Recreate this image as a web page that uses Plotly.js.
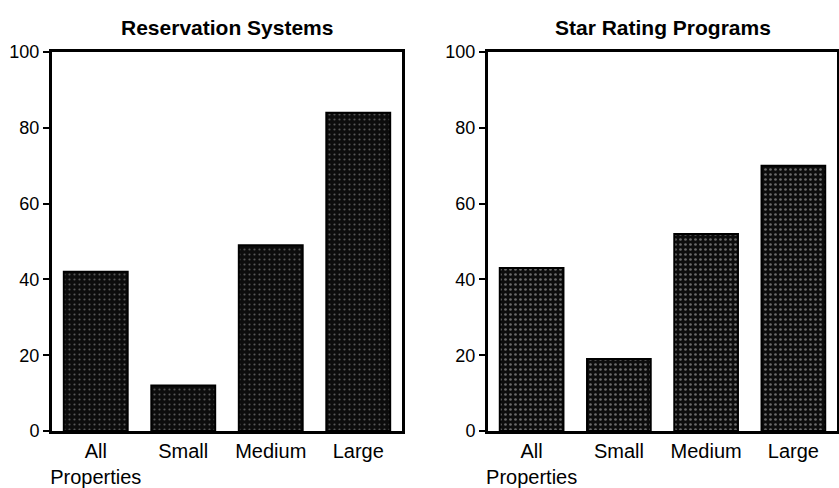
<!DOCTYPE html>
<html>
<head>
<meta charset="utf-8">
<script src="https://cdn.plot.ly/plotly-3.0.1.min.js"></script>
<style>html,body{margin:0;padding:0;background:#fff;}#chart{width:839px;height:488px;}</style>
</head>
<body>
<div id="chart"></div>
<script>
const categories = ["All<br>Properties", "Small", "Medium", "Large"];
const reservationSystems = [42, 12, 49, 84];
const starRatingPrograms = [43, 19, 52, 70];
const panelTitles = ["Reservation Systems", "Star Rating Programs"];
const yTicks = [0, 20, 40, 60, 80, 100];

const FONT = "Liberation Sans, Arial, Helvetica, sans-serif";

function barTrace(y, xa, ya, fg, solidity) {
  return {
    type: "bar",
    x: categories,
    y: y,
    xaxis: xa,
    yaxis: ya,
    marker: {
      color: "#0c0c0c",
      line: {color: "#000", width: 2},
      pattern: {shape: ".", fgcolor: fg, bgcolor: "#0c0c0c", size: 5, solidity: solidity}
    },
    hoverinfo: "x+y",
    showlegend: false
  };
}

const data = [
  barTrace(reservationSystems, "x", "y", "#555", 0.15),
  barTrace(starRatingPrograms, "x2", "y2", "#6a6a6a", 0.22)
];

const W = 839, H = 488;
const left1 = 52, right1 = 402, left2 = 488, right2 = 837;

function yAxisMain(anchor) {
  return {
    anchor: anchor,
    range: [0, 100],
    tickvals: yTicks,
    ticktext: yTicks.map(String),
    ticks: "outside",
    ticklen: 6,
    tickwidth: 2,
    tickcolor: "#000",
    showline: true,
    linecolor: "#000",
    linewidth: 3,
    mirror: true,
    showgrid: false,
    zeroline: false,
    tickfont: {family: FONT, size: 18, color: "#000"},
    fixedrange: true
  };
}
function yAxisRight(anchor, overlay) {
  return {
    anchor: anchor,
    overlaying: overlay,
    side: "right",
    range: [0, 100],
    tickvals: yTicks,
    ticks: "inside",
    ticklen: 6,
    tickwidth: 2,
    tickcolor: "#000",
    showticklabels: false,
    showline: false,
    showgrid: false,
    zeroline: false,
    fixedrange: true
  };
}
function xAxis(domain, anchor) {
  return {
    domain: domain,
    anchor: anchor,
    type: "category",
    showline: true,
    linecolor: "#000",
    linewidth: 3,
    mirror: true,
    ticks: "",
    showgrid: false,
    zeroline: false,
    tickfont: {family: FONT, size: 20, color: "#000"},
    fixedrange: true
  };
}

const layout = {
  width: W,
  height: H,
  margin: {l: 0, r: 0, t: 52, b: 57, pad: 0},
  paper_bgcolor: "#fff",
  plot_bgcolor: "#fff",
  bargap: 0.27,
  font: {family: FONT, color: "#000"},
  xaxis: xAxis([left1 / W, right1 / W], "y"),
  yaxis: yAxisMain("x"),
  xaxis2: xAxis([left2 / W, right2 / W], "y2"),
  yaxis2: yAxisMain("x2"),
  yaxis3: yAxisRight("x", "y"),
  yaxis4: yAxisRight("x2", "y2"),
  annotations: panelTitles.map((t, i) => ({
    text: "<b>" + t + "</b>",
    xref: i === 0 ? "x domain" : "x2 domain",
    yref: "paper",
    x: 0.5,
    y: 1,
    yanchor: "bottom",
    yshift: 11,
    showarrow: false,
    font: {family: FONT, size: 21, color: "#000"}
  }))
};

Plotly.newPlot("chart", data, layout, {displayModeBar: false, staticPlot: true});
</script>
</body>
</html>
